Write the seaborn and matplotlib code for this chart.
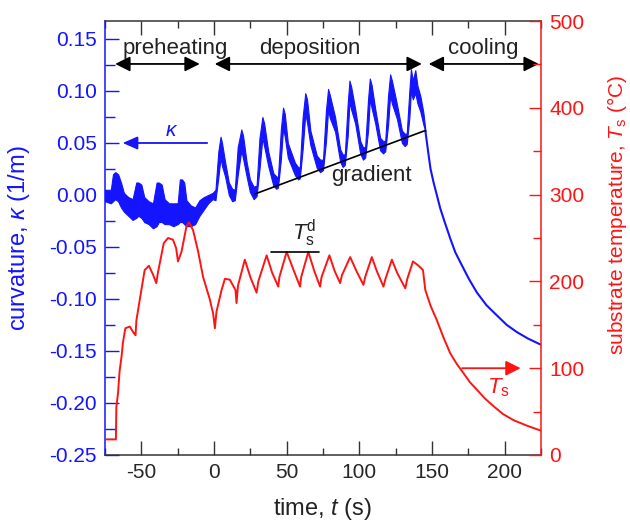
import numpy as np
import pandas as pd
import matplotlib
matplotlib.use("Agg")
import matplotlib.pyplot as plt
from matplotlib.ticker import MultipleLocator, FormatStrFormatter
import seaborn as sns

# ---------------- data ----------------
# curvature during preheating + deposition: noisy band (upper / lower envelope)
band_t = [-75, -71, -69.5, -68, -66, -64, -62, -59, -56, -53.5, -52, -50, -48, -45, -42,
          -39.5, -38, -36, -34, -31, -28, -25, -23.5, -22, -20.5, -19, -16, -13, -10, -7,
          -4, -1,
          1, 3, 4.5, 5.5, 7.6, 10.2, 12.5,
          14.3, 16.3, 18.8, 20, 22.4, 24.7, 27.3,
          29.3, 31.3, 33.3, 34.5, 37.3, 40.8, 42.8,
          44, 46, 47.5, 48.7, 50.8, 55.7, 57.8,
          59, 61, 62.8, 64, 66.3, 70.7, 73,
          75, 77, 78.5, 79.7, 83.3, 86.8, 88.5,
          90, 92, 93.2, 94.4, 97.1, 100.6, 102.5,
          104, 106, 107.2, 108.4, 110.9, 114.3, 116.3,
          117.8, 119.8, 121.2, 122.4, 125.9, 129.3, 131.2,
          132.6, 134.4, 135.5, 136.8, 138.5, 140, 142, 144, 145.4]
band_hi = [0.005, 0.005, 0.02, 0.022, 0.02, 0.012, 0.002, -0.002, -0.004, 0.012, 0.012, 0.01,
           -0.002, -0.006, -0.008, 0.012, 0.012, 0.01, -0.004, -0.008, -0.008, -0.008, 0.015,
           0.015, 0.012, -0.005, -0.01, -0.012, -0.005, -0.002, 0.0, 0.002,
           0.005, 0.042, 0.056, 0.05, 0.032, 0.012, 0.006,
           0.005, 0.046, 0.063, 0.057, 0.032, 0.015, 0.008,
           0.009, 0.055, 0.075, 0.069, 0.042, 0.021, 0.018,
           0.017, 0.063, 0.084, 0.078, 0.05, 0.031, 0.027,
           0.026, 0.075, 0.098, 0.092, 0.062, 0.038, 0.034,
           0.034, 0.081, 0.102, 0.096, 0.075, 0.044, 0.039,
           0.039, 0.088, 0.11, 0.104, 0.083, 0.052, 0.046,
           0.046, 0.092, 0.112, 0.106, 0.083, 0.055, 0.052,
           0.052, 0.096, 0.116, 0.11, 0.087, 0.062, 0.059,
           0.059, 0.1, 0.121, 0.11, 0.12, 0.105, 0.095, 0.08, 0.063]
band_lo = [-0.006, -0.008, -0.006, -0.004, -0.006, -0.012, -0.016, -0.02, -0.024, -0.022, -0.02,
           -0.022, -0.026, -0.028, -0.032, -0.03, -0.026, -0.026, -0.028, -0.028, -0.03, -0.028,
           -0.026, -0.026, -0.028, -0.03, -0.03, -0.028, -0.02, -0.014, -0.008, -0.004,
           -0.005, 0.017, 0.036, 0.028, 0.018, 0.0, -0.006,
           -0.005, 0.019, 0.043, 0.035, 0.018, 0.003, -0.004,
           -0.001, 0.025, 0.055, 0.047, 0.028, 0.009, 0.006,
           0.007, 0.034, 0.064, 0.056, 0.036, 0.019, 0.015,
           0.016, 0.044, 0.078, 0.07, 0.048, 0.026, 0.022,
           0.024, 0.051, 0.082, 0.074, 0.061, 0.032, 0.027,
           0.029, 0.057, 0.09, 0.082, 0.069, 0.04, 0.034,
           0.036, 0.062, 0.092, 0.084, 0.069, 0.043, 0.04,
           0.042, 0.068, 0.096, 0.088, 0.073, 0.05, 0.047,
           0.049, 0.074, 0.1, 0.092, 0.098, 0.088, 0.08, 0.068, 0.061]

# curvature during cooling
cool_t = [145.4, 147.7, 149, 151.1, 153.5, 155.7, 158.5, 162.6, 166, 170.7, 175.5, 181,
          187.5, 194.8, 201.5, 208.6, 216, 225]
cool_k = [0.062, 0.038, 0.025, 0.012, -0.001, -0.013, -0.025, -0.042, -0.055, -0.068,
          -0.081, -0.094, -0.106, -0.116, -0.125, -0.132, -0.138, -0.144]

# substrate temperature (°C)
temp_t = [-75, -67.5, -67.2, -66, -65, -63.5, -62.7, -61, -58, -55, -54, -53.4, -50, -47.7,
          -44.8, -42, -39.7, -38.6, -36, -34.6, -31.6, -28.2, -26, -24.8, -22.4, -20.5, -19,
          -17.2, -14.4, -11, -7.5, -3, -0.6, 0.6, 1.7, 5.2, 7.5, 10.9, 14.8, 15.5, 16.5,
          21.2, 25, 29.3, 30.5, 36.2, 40, 44.2, 45, 50, 55, 59.2, 60, 64.9, 69, 73, 74,
          79.4, 83, 86.8, 88, 93.7, 98, 102.8, 104, 108.6, 112, 116.6, 118, 122.4, 126,
          131.6, 133, 136.9, 140.8, 143.8, 145.4, 149, 153.4, 158, 162.6, 167, 171.8, 176,
          181, 186.5, 192.5, 199, 206.3, 215, 225]
temp_T = [18, 18, 55, 72, 96, 115, 129, 146, 148, 140, 138, 155, 190, 213,
          218, 208, 198, 210, 232, 244, 250, 248, 238, 223, 234, 250, 263,
          268, 259, 235, 205, 180, 163, 146, 165, 190, 203, 202, 190, 175, 195,
          225, 205, 187, 200, 230, 210, 194, 205, 234, 212, 194, 205, 234, 212, 194, 205,
          230, 212, 198, 207, 228, 212, 196, 205, 228, 212, 194, 203, 225, 210,
          192, 203, 223, 218, 213, 190, 172, 155, 135, 117, 105, 94, 84,
          75, 65, 56, 47, 40, 34, 28]

# reference lines
gradient_t = [28.2, 145.4]
gradient_k = [0.001, 0.062]
tsd_t = [39, 72]
tsd_T = [234, 234]

# phase spans (s)
phase_names = ["preheating", "deposition", "cooling"]
phase_start = [-68, 0.5, 147.7]
phase_end = [-9.8, 143, 223.5]
phase_label_t = [-27, 66, 185.5]

BLUE = "#1414ff"
RED = "#ff1414"

# ---------------- style ----------------
sns.set_theme(style="ticks")
plt.rcParams["font.family"] = ["Liberation Sans", "DejaVu Sans"]
plt.rcParams["mathtext.fontset"] = "custom"
plt.rcParams["mathtext.rm"] = "Liberation Sans"
plt.rcParams["mathtext.it"] = "Liberation Sans:italic"
plt.rcParams["axes.unicode_minus"] = False

fig = plt.figure(figsize=(6.3, 5.21), dpi=100)
ax = fig.add_axes([105 / 630, 66 / 521, 436 / 630, 434 / 521])
ax2 = ax.twinx()

# curvature
ax.fill_between(band_t, band_lo, band_hi, color=BLUE, lw=0.8, edgecolor=BLUE)
sns.lineplot(x=cool_t, y=cool_k, ax=ax, color=BLUE, lw=1.5, sort=False, estimator=None)
sns.lineplot(x=gradient_t, y=gradient_k, ax=ax, color="black", lw=1.2, sort=False, estimator=None)

# temperature
sns.lineplot(x=temp_t, y=temp_T, ax=ax2, color=RED, lw=1.4, sort=False, estimator=None)
sns.lineplot(x=tsd_t, y=tsd_T, ax=ax2, color="black", lw=1.2, sort=False, estimator=None)

# limits
ax.set_xlim(-75, 225)
ax.set_ylim(-0.25, 0.1673)
ax2.set_ylim(0, 500)

# ticks
ax.xaxis.set_major_locator(MultipleLocator(50))
ax.xaxis.set_minor_locator(MultipleLocator(25))
ax.yaxis.set_major_locator(MultipleLocator(0.05))
ax.yaxis.set_minor_locator(MultipleLocator(0.025))
ax.yaxis.set_major_formatter(FormatStrFormatter("%.2f"))
ax2.yaxis.set_major_locator(MultipleLocator(100))
ax2.yaxis.set_minor_locator(MultipleLocator(50))

ax.tick_params(axis="x", which="both", direction="in", top=True, bottom=True,
               labelsize=15, pad=6, color="#333333", width=1.0)
ax.tick_params(axis="x", which="major", length=10)
ax.tick_params(axis="x", which="minor", length=5)
ax.tick_params(axis="y", which="both", direction="in", left=True, right=False,
               labelsize=15, pad=6, color=BLUE, labelcolor=BLUE, width=1.0)
ax.tick_params(axis="y", which="major", length=10)
ax.tick_params(axis="y", which="minor", length=7)
ax2.tick_params(axis="y", which="both", direction="in", right=True, left=False,
                labelsize=15, pad=6, color=RED, labelcolor=RED, width=1.0)
ax2.tick_params(axis="y", which="major", length=9)
ax2.tick_params(axis="y", which="minor", length=6)

# spines
for s in ["top", "bottom"]:
    ax.spines[s].set_color("#333333")
    ax.spines[s].set_linewidth(1.1)
ax.spines["left"].set_color(BLUE)
ax.spines["left"].set_linewidth(1.1)
ax.spines["right"].set_visible(False)
for s in ["left", "top", "bottom"]:
    ax2.spines[s].set_visible(False)
ax2.spines["right"].set_color(RED)
ax2.spines["right"].set_linewidth(1.1)

# axis labels
ax.set_xlabel(r"time, $t$ (s)", fontsize=17, color="#222222")
ax.set_ylabel(r"curvature, $\kappa$ (1/m)", fontsize=17, color=BLUE)
ax2.set_ylabel(r"substrate temperature, $T_\mathrm{s}$ (°C)", fontsize=15, color=RED)
ax.xaxis.set_label_coords(0.5, -0.095)
ax.yaxis.set_label_coords(-0.168, 0.5)
ax2.yaxis.set_label_coords(1.146, 0.553)

# phase arrows and names
arrow_y = 0.126
for name, t0, t1, tl in zip(phase_names, phase_start, phase_end, phase_label_t):
    ax.annotate("", xy=(t0, arrow_y), xytext=(t1, arrow_y),
                arrowprops=dict(arrowstyle="<|-|>,head_length=0.5,head_width=0.25",
                                color="black", lw=1.3, mutation_scale=18,
                                shrinkA=0, shrinkB=0))
    ax.text(tl, 0.1356, name, fontsize=16, ha="center", va="baseline", color="#222222")

# series markers
ax.annotate("", xy=(-62.8, 0.05), xytext=(-4.7, 0.05),
            arrowprops=dict(arrowstyle="-|>,head_length=0.5,head_width=0.22",
                            color=BLUE, lw=1.3, mutation_scale=18, shrinkA=0, shrinkB=0))
ax.text(-28.8, 0.0567, r"$\kappa$", fontsize=15, ha="center", va="baseline", color=BLUE)

ax2.annotate("", xy=(211, 100), xytext=(170.7, 100),
             arrowprops=dict(arrowstyle="-|>,head_length=0.5,head_width=0.25",
                             color=RED, lw=1.3, mutation_scale=18, shrinkA=0, shrinkB=0))
ax2.text(195.7, 71.4, r"$T_\mathrm{s}$", fontsize=16, ha="center", va="baseline", color=RED)

ax.text(108.6, 0.0138, "gradient", fontsize=16, ha="center", va="baseline", color="#222222")
ax2.text(62, 247.7, r"$T_\mathrm{s}^\mathrm{d}$", fontsize=16, ha="center", va="baseline",
         color="#222222")

fig.savefig("out.png", dpi=100)
